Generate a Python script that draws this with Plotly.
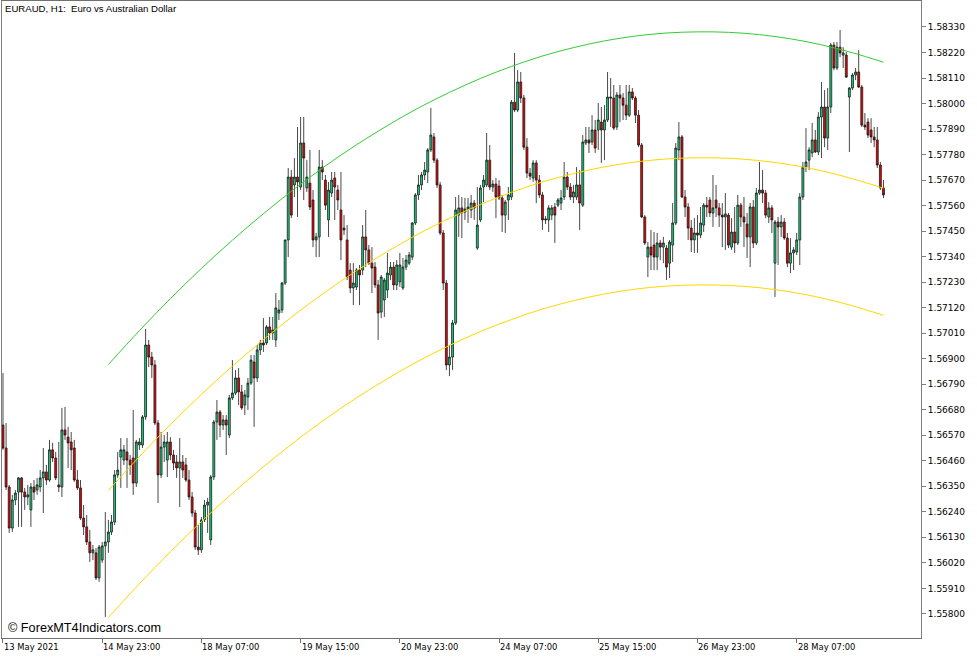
import plotly.graph_objects as go

# ---------------- data (EURAUD H1 candles) ----------------
bar_open = [
    1.56614, 1.56515, 1.56347, 1.56170, 1.56291, 1.56325, 1.56386, 1.56325, 1.56304, 1.56248,
    1.56347, 1.56334, 1.56347, 1.56386, 1.56412, 1.56377, 1.56507, 1.56472, 1.56356, 1.56347,
    1.56593, 1.56562, 1.56541, 1.56515, 1.56377, 1.56343, 1.56213, 1.56175, 1.56110, 1.56063,
    1.56063, 1.55955, 1.56032, 1.56093, 1.56110, 1.56153, 1.56196, 1.56399, 1.56476, 1.56463,
    1.56498, 1.56463, 1.56472, 1.56364, 1.56528, 1.56528, 1.56649, 1.56959, 1.56907, 1.56873,
    1.56623, 1.56399, 1.56519, 1.56463, 1.56541, 1.56485, 1.56455, 1.56429, 1.56455, 1.56442,
    1.56377, 1.56304, 1.56235, 1.56088, 1.56076, 1.56205, 1.56269, 1.56119, 1.56390, 1.56627,
    1.56670, 1.56614, 1.56636, 1.56571, 1.56731, 1.56752, 1.56817, 1.56757, 1.56700, 1.56735,
    1.56795, 1.56886, 1.56817, 1.56938, 1.56968, 1.56968, 1.57037, 1.57011, 1.56981, 1.57097,
    1.57110, 1.57226, 1.57412, 1.57683, 1.57649, 1.57683, 1.57640, 1.57830, 1.57636, 1.57657,
    1.57584, 1.57412, 1.57425, 1.57726, 1.57670, 1.57498, 1.57614, 1.57679, 1.57627, 1.57541,
    1.57463, 1.57412, 1.57282, 1.57205, 1.57209, 1.57282, 1.57282, 1.57425, 1.57369, 1.57312,
    1.57295, 1.57218, 1.57101, 1.57153, 1.57196, 1.57261, 1.57295, 1.57218, 1.57231, 1.57205,
    1.57295, 1.57312, 1.57338, 1.57485, 1.57606, 1.57649, 1.57692, 1.57705, 1.57800, 1.57856,
    1.57756, 1.57649, 1.57442, 1.57226, 1.56873, 1.56907, 1.57054, 1.57519, 1.57550, 1.57532,
    1.57545, 1.57541, 1.57571, 1.57377, 1.57498, 1.57640, 1.57649, 1.57756, 1.57640, 1.57653,
    1.57644, 1.57593, 1.57519, 1.57584, 1.57597, 1.58006, 1.57972, 1.58093, 1.58024, 1.57812,
    1.57700, 1.57679, 1.57744, 1.57670, 1.57606, 1.57498, 1.57498, 1.57519, 1.57554, 1.57562,
    1.57571, 1.57597, 1.57683, 1.57640, 1.57597, 1.57597, 1.57649, 1.57562, 1.57830, 1.57843,
    1.57834, 1.57886, 1.57886, 1.57920, 1.57886, 1.57929, 1.58028, 1.58024, 1.57899, 1.58037,
    1.58024, 1.57993, 1.57950, 1.58050, 1.58024, 1.57950, 1.57821, 1.57511, 1.57338, 1.57381,
    1.57390, 1.57338, 1.57399, 1.57381, 1.57377, 1.57312, 1.57390, 1.57485, 1.57800, 1.57856,
    1.57597, 1.57554, 1.57463, 1.57412, 1.57442, 1.57433, 1.57476, 1.57562, 1.57584, 1.57528,
    1.57584, 1.57550, 1.57519, 1.57511, 1.57519, 1.57381, 1.57446, 1.57399, 1.57562, 1.57511,
    1.57481, 1.57425, 1.57554, 1.57399, 1.57614, 1.57627, 1.57614, 1.57511, 1.57550, 1.57312,
    1.57489, 1.57468, 1.57489, 1.57420, 1.57312, 1.57356, 1.57360, 1.57412, 1.57597, 1.57726,
    1.57756, 1.57787, 1.57843, 1.57791, 1.57942, 1.57985, 1.57851, 1.57985, 1.58252, 1.58153,
    1.58243, 1.58209, 1.58209, 1.58028, 1.58067, 1.58123, 1.58136, 1.58071, 1.57907, 1.57920,
    1.57886, 1.57856, 1.57843, 1.57735, 1.57636,
]
bar_high = [
    1.56838, 1.56623, 1.56356, 1.56313, 1.56334, 1.56390, 1.56390, 1.56343, 1.56356, 1.56364,
    1.56377, 1.56386, 1.56420, 1.56515, 1.56442, 1.56550, 1.56537, 1.56498, 1.56541, 1.56688,
    1.56692, 1.56606, 1.56584, 1.56550, 1.56420, 1.56377, 1.56269, 1.56226, 1.56162, 1.56097,
    1.56084, 1.56097, 1.56110, 1.56239, 1.56205, 1.56226, 1.56420, 1.56498, 1.56558, 1.56528,
    1.56558, 1.56485, 1.56679, 1.56550, 1.56558, 1.56657, 1.57028, 1.56981, 1.56929, 1.56894,
    1.56636, 1.56584, 1.56571, 1.56584, 1.56562, 1.56507, 1.56485, 1.56558, 1.56485, 1.56472,
    1.56420, 1.56325, 1.56248, 1.56183, 1.56218, 1.56291, 1.56300, 1.56399, 1.56636, 1.56722,
    1.56679, 1.56657, 1.56657, 1.56744, 1.56894, 1.56851, 1.56860, 1.56787, 1.56765, 1.56817,
    1.56916, 1.56916, 1.56959, 1.56981, 1.57075, 1.57045, 1.57080, 1.57080, 1.57183, 1.57153,
    1.57231, 1.57412, 1.57722, 1.57713, 1.57765, 1.57899, 1.57942, 1.57942, 1.57756, 1.57800,
    1.57627, 1.57442, 1.57800, 1.57756, 1.57692, 1.57662, 1.57705, 1.57705, 1.57649, 1.57705,
    1.57519, 1.57476, 1.57312, 1.57312, 1.57291, 1.57304, 1.57476, 1.57541, 1.57390, 1.57381,
    1.57317, 1.57239, 1.57261, 1.57248, 1.57356, 1.57317, 1.57317, 1.57325, 1.57356, 1.57334,
    1.57347, 1.57360, 1.57489, 1.57614, 1.57692, 1.57705, 1.57748, 1.57808, 1.57981, 1.57873,
    1.57765, 1.57662, 1.57455, 1.57239, 1.56959, 1.57067, 1.57597, 1.57606, 1.57597, 1.57593,
    1.57593, 1.57606, 1.57584, 1.57640, 1.57649, 1.57692, 1.57873, 1.57821, 1.57670, 1.57679,
    1.57670, 1.57606, 1.57584, 1.57640, 1.58015, 1.58218, 1.58144, 1.58136, 1.58037, 1.57851,
    1.57722, 1.57756, 1.57756, 1.57692, 1.57619, 1.57515, 1.57562, 1.57562, 1.57571, 1.57593,
    1.57627, 1.57748, 1.57705, 1.57657, 1.57649, 1.57726, 1.57713, 1.57864, 1.57899, 1.57899,
    1.57950, 1.57929, 1.58002, 1.57985, 1.57993, 1.58136, 1.58110, 1.58080, 1.58050, 1.58080,
    1.58045, 1.58080, 1.58080, 1.58067, 1.58032, 1.57972, 1.57830, 1.57519, 1.57403, 1.57455,
    1.57446, 1.57442, 1.57412, 1.57425, 1.57390, 1.57412, 1.57571, 1.57830, 1.57920, 1.57864,
    1.57627, 1.57571, 1.57498, 1.57506, 1.57519, 1.57554, 1.57571, 1.57597, 1.57597, 1.57692,
    1.57649, 1.57571, 1.57571, 1.57614, 1.57528, 1.57506, 1.57554, 1.57606, 1.57571, 1.57597,
    1.57528, 1.57571, 1.57584, 1.57636, 1.57748, 1.57713, 1.57627, 1.57575, 1.57562, 1.57498,
    1.57511, 1.57519, 1.57506, 1.57442, 1.57420, 1.57381, 1.57442, 1.57614, 1.57748, 1.57894,
    1.57812, 1.57916, 1.57886, 1.57963, 1.58093, 1.58058, 1.58067, 1.58261, 1.58265, 1.58265,
    1.58317, 1.58243, 1.58222, 1.58071, 1.58131, 1.58153, 1.58230, 1.58080, 1.57959, 1.57937,
    1.57937, 1.57899, 1.57899, 1.57748, 1.57670,
]
bar_low = [
    1.56507, 1.56334, 1.56149, 1.56153, 1.56269, 1.56175, 1.56175, 1.56248, 1.56269, 1.56175,
    1.56291, 1.56313, 1.56325, 1.56235, 1.56356, 1.56369, 1.56455, 1.56377, 1.56325, 1.56304,
    1.56550, 1.56429, 1.56420, 1.56369, 1.56334, 1.56205, 1.56140, 1.56097, 1.56024, 1.56032,
    1.55946, 1.55938, 1.56020, 1.55787, 1.56063, 1.56140, 1.56183, 1.56386, 1.56343, 1.56442,
    1.56343, 1.56399, 1.56313, 1.56347, 1.56507, 1.56515, 1.56636, 1.56864, 1.56817, 1.56614,
    1.56278, 1.56386, 1.56455, 1.56390, 1.56463, 1.56420, 1.56386, 1.56261, 1.56386, 1.56369,
    1.56291, 1.56218, 1.56076, 1.56054, 1.56063, 1.56196, 1.56149, 1.56097, 1.56377, 1.56550,
    1.56562, 1.56593, 1.56485, 1.56558, 1.56722, 1.56744, 1.56700, 1.56679, 1.56657, 1.56679,
    1.56787, 1.56606, 1.56800, 1.56916, 1.56929, 1.56959, 1.56981, 1.56981, 1.56950, 1.57067,
    1.57097, 1.57218, 1.57338, 1.57506, 1.57597, 1.57511, 1.57627, 1.57584, 1.57619, 1.57541,
    1.57381, 1.57338, 1.57338, 1.57670, 1.57541, 1.57425, 1.57597, 1.57498, 1.57541, 1.57325,
    1.57433, 1.57239, 1.57183, 1.57131, 1.57196, 1.57131, 1.57261, 1.57295, 1.57304, 1.57183,
    1.57205, 1.56981, 1.57075, 1.57080, 1.57162, 1.57239, 1.57196, 1.57196, 1.57209, 1.57196,
    1.57282, 1.57304, 1.57325, 1.57476, 1.57584, 1.57627, 1.57670, 1.57657, 1.57791, 1.57744,
    1.57636, 1.57433, 1.57196, 1.56851, 1.56825, 1.56851, 1.57045, 1.57425, 1.57420, 1.57498,
    1.57485, 1.57506, 1.57498, 1.57369, 1.57489, 1.57575, 1.57640, 1.57627, 1.57619, 1.57506,
    1.57584, 1.57446, 1.57442, 1.57498, 1.57584, 1.57963, 1.57963, 1.58002, 1.57800, 1.57679,
    1.57670, 1.57662, 1.57571, 1.57593, 1.57455, 1.57481, 1.57446, 1.57498, 1.57399, 1.57554,
    1.57541, 1.57584, 1.57627, 1.57584, 1.57571, 1.57584, 1.57455, 1.57554, 1.57821, 1.57787,
    1.57821, 1.57787, 1.57800, 1.57744, 1.57756, 1.57920, 1.57899, 1.57886, 1.57886, 1.57920,
    1.57929, 1.57929, 1.57942, 1.58015, 1.57916, 1.57812, 1.57506, 1.57390, 1.57252, 1.57282,
    1.57282, 1.57282, 1.57325, 1.57312, 1.57239, 1.57248, 1.57317, 1.57476, 1.57756, 1.57593,
    1.57511, 1.57412, 1.57360, 1.57356, 1.57356, 1.57420, 1.57446, 1.57511, 1.57511, 1.57468,
    1.57511, 1.57468, 1.57381, 1.57369, 1.57377, 1.57369, 1.57356, 1.57390, 1.57468, 1.57381,
    1.57334, 1.57295, 1.57377, 1.57390, 1.57606, 1.57571, 1.57506, 1.57485, 1.57442, 1.57166,
    1.57304, 1.57425, 1.57412, 1.57295, 1.57269, 1.57282, 1.57347, 1.57304, 1.57584, 1.57705,
    1.57713, 1.57769, 1.57787, 1.57778, 1.57765, 1.57812, 1.57800, 1.57959, 1.58144, 1.58144,
    1.58200, 1.58153, 1.58110, 1.57791, 1.58058, 1.58101, 1.58067, 1.57899, 1.57886, 1.57851,
    1.57830, 1.57812, 1.57722, 1.57627, 1.57593,
]
bar_close = [
    1.56515, 1.56347, 1.56170, 1.56291, 1.56321, 1.56386, 1.56325, 1.56304, 1.56313, 1.56347,
    1.56325, 1.56356, 1.56386, 1.56412, 1.56377, 1.56507, 1.56472, 1.56386, 1.56347, 1.56593,
    1.56571, 1.56537, 1.56507, 1.56377, 1.56343, 1.56213, 1.56175, 1.56110, 1.56063, 1.56076,
    1.55955, 1.56088, 1.56093, 1.56110, 1.56153, 1.56196, 1.56399, 1.56420, 1.56507, 1.56507,
    1.56463, 1.56442, 1.56364, 1.56541, 1.56541, 1.56649, 1.56959, 1.56907, 1.56873, 1.56623,
    1.56399, 1.56519, 1.56541, 1.56541, 1.56485, 1.56450, 1.56429, 1.56455, 1.56420, 1.56377,
    1.56304, 1.56235, 1.56088, 1.56076, 1.56205, 1.56269, 1.56282, 1.56390, 1.56627, 1.56670,
    1.56614, 1.56636, 1.56614, 1.56731, 1.56752, 1.56817, 1.56757, 1.56688, 1.56744, 1.56795,
    1.56894, 1.56817, 1.56938, 1.56968, 1.56959, 1.57037, 1.57011, 1.57024, 1.57119, 1.57110,
    1.57226, 1.57412, 1.57683, 1.57519, 1.57683, 1.57662, 1.57830, 1.57765, 1.57683, 1.57554,
    1.57412, 1.57425, 1.57726, 1.57705, 1.57562, 1.57627, 1.57670, 1.57640, 1.57584, 1.57412,
    1.57455, 1.57252, 1.57205, 1.57226, 1.57282, 1.57261, 1.57425, 1.57369, 1.57312, 1.57291,
    1.57218, 1.57097, 1.57252, 1.57239, 1.57269, 1.57295, 1.57218, 1.57304, 1.57304, 1.57295,
    1.57325, 1.57347, 1.57485, 1.57606, 1.57649, 1.57692, 1.57713, 1.57800, 1.57864, 1.57756,
    1.57649, 1.57442, 1.57226, 1.56873, 1.56907, 1.57054, 1.57541, 1.57550, 1.57528, 1.57545,
    1.57554, 1.57571, 1.57550, 1.57476, 1.57636, 1.57670, 1.57756, 1.57640, 1.57653, 1.57597,
    1.57593, 1.57519, 1.57575, 1.57606, 1.58006, 1.57972, 1.58093, 1.58024, 1.57812, 1.57700,
    1.57687, 1.57744, 1.57670, 1.57606, 1.57498, 1.57502, 1.57550, 1.57550, 1.57519, 1.57584,
    1.57593, 1.57683, 1.57640, 1.57597, 1.57619, 1.57649, 1.57571, 1.57834, 1.57843, 1.57830,
    1.57886, 1.57808, 1.57929, 1.57886, 1.57929, 1.58028, 1.58024, 1.57894, 1.58037, 1.58024,
    1.57993, 1.57950, 1.58050, 1.58024, 1.57950, 1.57821, 1.57511, 1.57399, 1.57381, 1.57347,
    1.57338, 1.57399, 1.57381, 1.57399, 1.57295, 1.57403, 1.57485, 1.57808, 1.57856, 1.57597,
    1.57554, 1.57463, 1.57412, 1.57442, 1.57433, 1.57485, 1.57562, 1.57554, 1.57528, 1.57550,
    1.57550, 1.57519, 1.57511, 1.57524, 1.57390, 1.57446, 1.57399, 1.57562, 1.57511, 1.57489,
    1.57425, 1.57554, 1.57399, 1.57614, 1.57627, 1.57614, 1.57519, 1.57550, 1.57498, 1.57489,
    1.57468, 1.57489, 1.57420, 1.57312, 1.57356, 1.57369, 1.57412, 1.57597, 1.57726, 1.57748,
    1.57800, 1.57843, 1.57791, 1.57942, 1.57985, 1.57851, 1.57985, 1.58252, 1.58153, 1.58243,
    1.58218, 1.58218, 1.58114, 1.58067, 1.58123, 1.58136, 1.58071, 1.57907, 1.57899, 1.57864,
    1.57856, 1.57843, 1.57735, 1.57636, 1.57606,
]

# regression channel (values at every 10th bar)
chan_bars = [34, 44, 54, 64, 74, 84, 94, 104, 114, 124, 134, 144, 154,
             164, 174, 184, 194, 204, 214, 224, 234, 244, 254, 264, 274, 284]
chan_mid = [1.56332, 1.56478, 1.56616, 1.56746, 1.56868, 1.56982, 1.57089, 1.57188, 1.57279,
            1.57362, 1.57438, 1.57505, 1.57565, 1.57617, 1.57662, 1.57698, 1.57727, 1.57748,
            1.57761, 1.57766, 1.57764, 1.57754, 1.57736, 1.57710, 1.57676, 1.57635]
chan_upper = [1.56875, 1.57021, 1.57159, 1.57289, 1.57411, 1.57525, 1.57632, 1.57731, 1.57822,
              1.57905, 1.57981, 1.58048, 1.58108, 1.58160, 1.58205, 1.58241, 1.58270, 1.58291,
              1.58304, 1.58309, 1.58307, 1.58297, 1.58279, 1.58253, 1.58219, 1.58178]
chan_lower = [1.55784, 1.55930, 1.56068, 1.56198, 1.56320, 1.56434, 1.56541, 1.56640, 1.56731,
              1.56814, 1.56890, 1.56957, 1.57017, 1.57069, 1.57114, 1.57150, 1.57179, 1.57200,
              1.57213, 1.57218, 1.57216, 1.57206, 1.57188, 1.57162, 1.57128, 1.57087]

time_tick_bars = [0, 32, 64, 96, 128, 160, 192, 224, 256]
time_tick_labels = ["13 May 2021", "14 May 23:00", "18 May 07:00", "19 May 15:00",
                    "20 May 23:00", "24 May 07:00", "25 May 15:00", "26 May 23:00",
                    "28 May 07:00"]
price_ticks = [1.55800, 1.55910, 1.56020, 1.56130, 1.56240, 1.56350, 1.56460, 1.56570,
               1.56680, 1.56790, 1.56900, 1.57010, 1.57120, 1.57230, 1.57340, 1.57450,
               1.57560, 1.57670, 1.57780, 1.57890, 1.58000, 1.58110, 1.58220, 1.58330]

# ---------------- figure ----------------
bars = list(range(len(bar_open)))
fig = go.Figure()

for ys, col in [(chan_upper, "#33CC33"), (chan_mid, "#FFD700"), (chan_lower, "#FFD700")]:
    fig.add_trace(go.Scatter(x=chan_bars, y=ys, mode="lines",
                             line=dict(color=col, width=1, shape="spline"),
                             hoverinfo="skip", showlegend=False))

fig.add_trace(go.Candlestick(
    x=bars, open=bar_open, high=bar_high, low=bar_low, close=bar_close,
    increasing=dict(fillcolor="#14D27F", line=dict(color="#1A1A1A", width=0.8)),
    decreasing=dict(fillcolor="#F00000", line=dict(color="#1A1A1A", width=0.8)),
    whiskerwidth=0, showlegend=False))

axis_font = dict(family="DejaVu Sans", size=9, color="#000000")
xlab_font = dict(family="DejaVu Sans", size=8.4, color="#000000")
annotations = [
    dict(text="EURAUD, H1:\u00a0 Euro vs Australian Dollar", xref="paper", yref="paper",
         x=0, y=1, xanchor="left", yanchor="top", xshift=1, yshift=0, showarrow=False,
         font=dict(family="Liberation Sans", size=9.6, color="#000000")),
    dict(text="\u00a9 ForexMT4Indicators.com", xref="paper", yref="paper",
         x=0, y=0, xanchor="left", yanchor="bottom", xshift=4, yshift=1, showarrow=False,
         font=dict(family="Liberation Sans", size=12.7, color="#000000")),
]
for b, lab in zip(time_tick_bars, time_tick_labels):
    annotations.append(dict(text=lab, xref="x", yref="paper", x=b, y=0,
                            xanchor="left", yanchor="top", xshift=-1, yshift=-2,
                            showarrow=False, font=xlab_font))

fig.update_layout(
    width=977, height=658,
    margin=dict(l=2, r=56, t=1, b=20),
    paper_bgcolor="#FFFFFF", plot_bgcolor="#FFFFFF",
    showlegend=False,
    boxgap=0.12,
    annotations=annotations,
    xaxis=dict(range=[-0.32, 296.1], rangeslider=dict(visible=False), showgrid=False,
               zeroline=False, showline=True, linecolor="#707070", linewidth=1, mirror=True,
               tickmode="array", tickvals=time_tick_bars, ticks="outside", ticklen=4,
               tickcolor="#707070", showticklabels=False),
    yaxis=dict(range=[1.55696, 1.58442], side="right", showgrid=False, zeroline=False,
               showline=True, linecolor="#808080", linewidth=1, mirror=True,
               tickmode="array", tickvals=price_ticks,
               ticktext=["%.5f" % v for v in price_ticks],
               ticks="outside", ticklen=4, tickcolor="#808080", tickfont=axis_font),
)

fig.write_html("out.html", config={"displayModeBar": False},
               post_script="document.body.style.margin='0';document.body.style.padding='0';")
